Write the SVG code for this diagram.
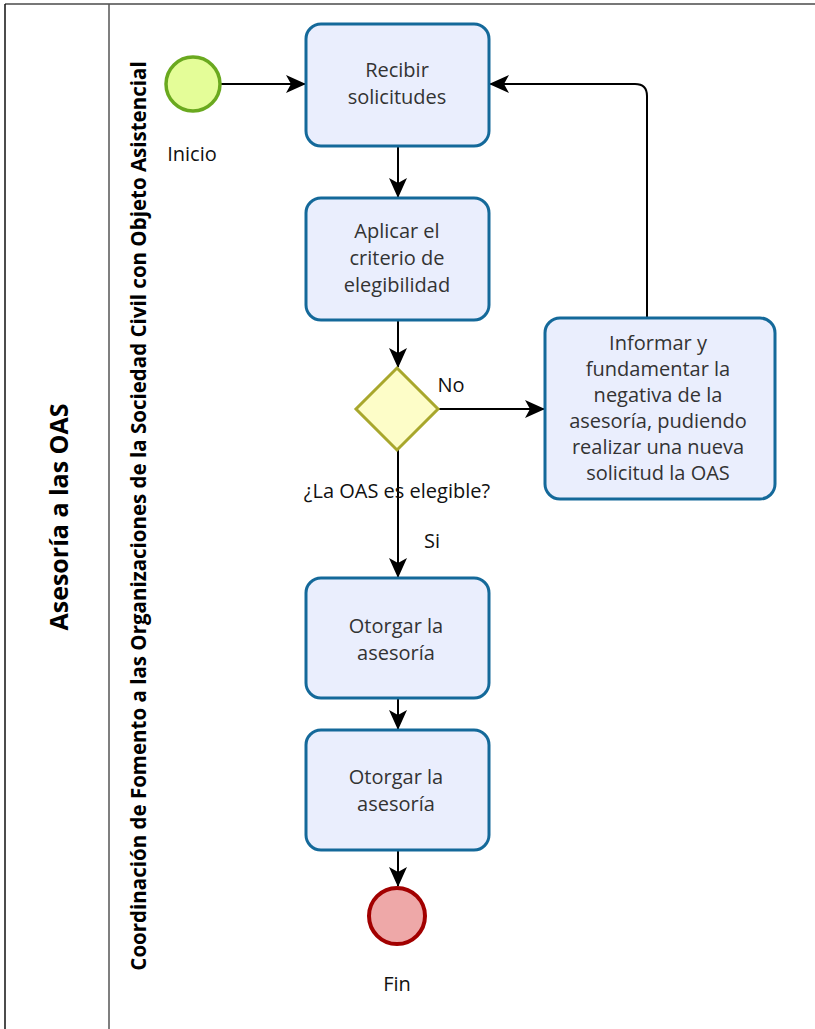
<svg xmlns="http://www.w3.org/2000/svg" width="815" height="1029" viewBox="0 0 815 1029">
<defs>
<marker id="arr" viewBox="0 0 20 20" refX="19" refY="10" markerWidth="20" markerHeight="20" markerUnits="userSpaceOnUse" orient="auto">
<path d="M0,1 L20,10 L0,19 L5,10 Z" fill="#000"/>
</marker>
<style>
.task{fill:#eaeefd;stroke:#14699a;stroke-width:3}
.t{font-family:"Open Sans","Noto Sans",sans-serif;font-size:20px;fill:#333;text-anchor:middle}
.lbl{font-family:"Open Sans","Noto Sans",sans-serif;font-size:20px;fill:#111;text-anchor:middle}
.c{fill:none;stroke:#000;stroke-width:2;marker-end:url(#arr)}
.lane{font-family:"Open Sans","Noto Sans",sans-serif;font-weight:bold;fill:#000;text-anchor:middle}
</style>
</defs>
<rect width="815" height="1029" fill="#fff"/>
<g id="pool">
<line x1="5" y1="4" x2="815" y2="4" stroke="#777" stroke-width="2"/>
<line x1="5" y1="4" x2="5" y2="1029" stroke="#111" stroke-width="1.5"/>
<line x1="109" y1="4" x2="109" y2="1029" stroke="#555" stroke-width="1.5"/>
<text class="lane" font-size="25" transform="translate(68,517) rotate(-90)">Asesoría a las OAS</text>
<text class="lane" font-size="20.5" transform="translate(146,516) rotate(-90)">Coordinación de Fomento a las Organizaciones de la Sociedad Civil con Objeto Asistencial</text>
</g>
<g id="connectors">
<line class="c" x1="221" y1="84" x2="305" y2="84"/>
<line class="c" x1="398" y1="146" x2="398" y2="197"/>
<line class="c" x1="398" y1="320" x2="398" y2="367"/>
<line class="c" x1="438" y1="409" x2="544" y2="409"/>
<line class="c" x1="398" y1="450" x2="398" y2="577"/>
<line class="c" x1="398" y1="698" x2="398" y2="729"/>
<line class="c" x1="398" y1="850" x2="398" y2="886"/>
<path class="c" d="M647,318 L647,96 Q647,84 635,84 L490,84"/>
<text class="lbl" x="451" y="392">No</text>
<text class="lbl" x="432" y="548">Si</text>
</g>
<g id="start">
<circle cx="193" cy="84" r="27" fill="#e4fd98" stroke="#6aa91f" stroke-width="3.5"/>
<text class="lbl" x="192" y="161">Inicio</text>
</g>
<g id="recibir">
<rect class="task" x="306" y="24" width="183" height="122" rx="15"/>
<text class="t" x="397" y="77">Recibir</text>
<text class="t" x="397" y="104">solicitudes</text>
</g>
<g id="aplicar">
<rect class="task" x="306" y="198" width="183" height="122" rx="15"/>
<text class="t" x="397" y="238">Aplicar el</text>
<text class="t" x="397" y="265">criterio de</text>
<text class="t" x="397" y="292">elegibilidad</text>
</g>
<g id="gateway">
<polygon points="397,368 438,409 397,450 356,409" fill="#fdfdc8" stroke="#a8a72c" stroke-width="3"/>
<text class="lbl" x="397" y="498">¿La OAS es elegible?</text>
</g>
<g id="informar">
<rect class="task" x="545" y="318" width="230" height="181" rx="15"/>
<text class="t" x="658" y="350">Informar y</text>
<text class="t" x="658" y="376">fundamentar la</text>
<text class="t" x="658" y="402">negativa de la</text>
<text class="t" x="658" y="428">asesoría, pudiendo</text>
<text class="t" x="658" y="454">realizar una nueva</text>
<text class="t" x="658" y="480">solicitud la OAS</text>
</g>
<g id="otorgar1">
<rect class="task" x="306" y="578" width="183" height="120" rx="15"/>
<text class="t" x="396" y="633">Otorgar la</text>
<text class="t" x="396" y="660">asesoría</text>
</g>
<g id="otorgar2">
<rect class="task" x="306" y="730" width="183" height="120" rx="15"/>
<text class="t" x="396" y="784">Otorgar la</text>
<text class="t" x="396" y="811">asesoría</text>
</g>
<g id="end">
<circle cx="397" cy="916" r="28" fill="#eea8a8" stroke="#a20000" stroke-width="4"/>
<text class="lbl" x="397" y="991">Fin</text>
</g>
</svg>
